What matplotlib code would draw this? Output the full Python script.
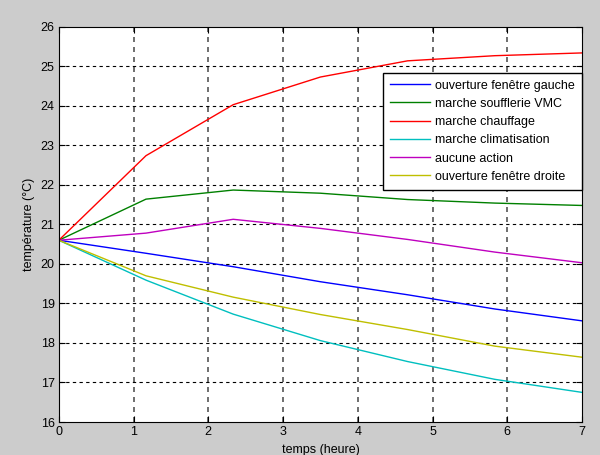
import matplotlib.pyplot as plt
import numpy as np

plt.rcParams['font.family'] = ['Liberation Sans', 'DejaVu Sans']

# temps (heure)
t = [0, 7/6, 14/6, 21/6, 28/6, 35/6, 7]

gauche = [20.6, 20.27, 19.93, 19.55, 19.22, 18.86, 18.56]
vmc = [20.6, 21.64, 21.87, 21.79, 21.63, 21.54, 21.48]
chauffage = [20.6, 22.74, 24.03, 24.73, 25.14, 25.27, 25.34]
clim = [20.6, 19.59, 18.73, 18.06, 17.53, 17.08, 16.75]
aucune = [20.6, 20.78, 21.13, 20.90, 20.62, 20.30, 20.03]
droite = [20.6, 19.70, 19.16, 18.72, 18.34, 17.92, 17.64]

series = [
    (gauche, '#0000ff', 'ouverture fenêtre gauche'),
    (vmc, '#008000', 'marche soufflerie VMC'),
    (chauffage, '#ff0000', 'marche chauffage'),
    (clim, '#00bfbf', 'marche climatisation'),
    (aucune, '#bf00bf', 'aucune action'),
    (droite, '#bfbf00', 'ouverture fenêtre droite'),
]

fig = plt.figure(figsize=(6, 4.55), dpi=100, facecolor='#cccccc')
ax = fig.add_axes([0.098, 0.0725, 0.872, 0.8685])

for y, col, lab in series:
    ax.plot(t, y, color=col, lw=1.0, label=lab)

ax.set_xlim(0, 7)
ax.set_ylim(16, 26)
ax.set_xticks(range(0, 8))
ax.set_yticks(range(16, 27))
ax.tick_params(direction='in', length=4, labelsize=9, pad=3)
ax.tick_params(top=True, right=True)

# grille
for v in range(1, 7):
    ax.axvline(v, color='#555555', lw=1.2, ls=(0, (3, 3)), zorder=0)
for v in range(17, 26):
    ax.axhline(v, color='black', lw=0.8, ls=(0, (3, 3)), zorder=0)

ax.set_xlabel('temps (heure)', fontsize=9, labelpad=4)
ax.set_ylabel('température (°C)', fontsize=9, labelpad=4)

leg = ax.legend(loc='upper right', bbox_to_anchor=(1.0, 0.884), fontsize=9,
                fancybox=False, framealpha=1, edgecolor='black',
                handlelength=3.2, borderpad=0.55, labelspacing=0.5,
                handletextpad=0.45, borderaxespad=0)
leg.get_frame().set_linewidth(1.0)

fig.savefig('out.png', dpi=100, facecolor=fig.get_facecolor())
